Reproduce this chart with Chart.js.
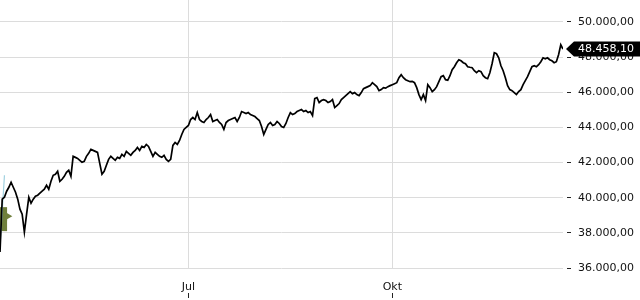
<!DOCTYPE html>
<html>
<head>
<meta charset="utf-8">
<script src="https://cdn.jsdelivr.net/npm/chart.js@4.4.1/dist/chart.umd.min.js"></script>
<style>
  html, body { margin: 0; padding: 0; background: #fff; }
  canvas { display: block; }
</style>
</head>
<body>
<canvas id="priceChart" width="640" height="300"></canvas>
<script>
// Index chart data (one value per day, day 0 = 7 Apr)
const monthTickDays = [85, 177];
const monthLabels = ['Jul', 'Okt'];
const priceTicks = [36000, 38000, 40000, 42000, 44000, 46000, 48000, 50000];
const lastPrice = 48458.10;

const closes = [
  36912, 39915, 40028, 40368, 40594, 40878, 40594, 40311, 39915, 39348,
  39065, 38045, 39065, 40028, 39688, 39915, 40084, 40141, 40254, 40368,
  40481, 40708, 40481, 40934, 41274, 41331, 41501, 40934, 41048, 41217,
  41444, 41557, 41217, 42351, 42294, 42237, 42124, 42011, 42067, 42351,
  42521, 42748, 42691, 42634, 42578, 41954, 41331, 41501, 41841, 42181,
  42351, 42237, 42124, 42294, 42237, 42464, 42351, 42634, 42521, 42408,
  42578, 42691, 42861, 42691, 42917, 42861, 43031, 42917, 42634, 42351,
  42578, 42464, 42351, 42294, 42408, 42181, 42067, 42181, 42974, 43144,
  43031, 43257, 43597, 43881, 43994, 44107, 44447, 44561, 44447, 44844,
  44447, 44334, 44277, 44447, 44561, 44731, 44334, 44391, 44447, 44277,
  44164, 43881, 44277, 44391, 44447, 44504, 44561, 44334, 44561, 44900,
  44844, 44787, 44844, 44731, 44674, 44617, 44504, 44391, 44051, 43597,
  43881, 44164, 44277, 44107, 44164, 44334, 44221, 44051, 43994, 44221,
  44561, 44844, 44731, 44787, 44900, 44957, 45014, 44900, 44957, 44844,
  44900, 44674, 45637, 45694, 45410, 45524, 45580, 45524, 45410, 45467,
  45580, 45127, 45240, 45354, 45580, 45694, 45807, 45920, 46034, 45920,
  45977, 45864, 45807, 45977, 46204, 46260, 46317, 46374, 46544, 46430,
  46317, 46090, 46147, 46260, 46230, 46317, 46374, 46430, 46487, 46544,
  46827, 46997, 46827, 46714, 46657, 46600, 46620, 46544, 46260, 45864,
  45580, 45864, 45524, 46430, 46260, 46034, 46147, 46317, 46600, 46884,
  46940, 46714, 46680, 46940, 47280, 47450, 47677, 47847, 47790, 47677,
  47620, 47450, 47420, 47394, 47224, 47110, 47224, 47167, 46940, 46827,
  46770, 47110, 47620, 48243, 48190, 47960, 47507, 47224, 46827, 46374,
  46147, 46090, 45977, 45864, 46034, 46147, 46430, 46657, 46884, 47167,
  47450, 47507, 47450, 47564, 47734, 47960, 47903, 47960, 47847, 47790,
  47677, 47734, 48130, 48697, lastPrice
];

// small overlays at the left edge
const compareDays = [0, 2];
const compareValues = [37200, 41280];
const markerDays = [0, 0];
const markerValues = [39060, 38500];
const arrowDay = [3.3];
const arrowValue = [38950];

function fmtDe(v) {
  const parts = v.toFixed(2).split('.');
  return parts[0].replace(/\B(?=(\d{3})+(?!\d))/g, '.') + ',' + parts[1];
}

const toPoints = (xs, ys) => xs.map((x, i) => ({ x: x, y: ys[i] }));

// black price tag on the right axis
const priceTag = {
  id: 'priceTag',
  afterDraw(chart) {
    const ctx = chart.ctx;
    const y = Math.round(chart.scales.y.getPixelForValue(lastPrice));
    const left = chart.chartArea.right + 3;
    const h = 7.5;
    ctx.save();
    ctx.fillStyle = '#000';
    ctx.beginPath();
    ctx.moveTo(left, y);
    ctx.lineTo(left + 8, y - h);
    ctx.lineTo(chart.width, y - h);
    ctx.lineTo(chart.width, y + h);
    ctx.lineTo(left + 8, y + h);
    ctx.closePath();
    ctx.fill();
    ctx.fillStyle = '#fff';
    ctx.font = '11px "DejaVu Sans"';
    ctx.textBaseline = 'middle';
    ctx.fillText(fmtDe(lastPrice), chart.chartArea.right + 15, y + 0.5);
    ctx.restore();
  }
};

new Chart(document.getElementById('priceChart'), {
  type: 'line',
  data: {
    datasets: [
      {
        data: toPoints(closes.map((_, i) => i), closes),
        borderColor: '#000',
        borderWidth: 1.7,
        pointRadius: 0,
        tension: 0,
        order: 1
      },
      {
        data: toPoints(compareDays, compareValues),
        borderColor: '#9fd0e0',
        borderWidth: 1.2,
        pointRadius: 0,
        order: 2
      },
      {
        type: 'scatter',
        data: toPoints(markerDays, markerValues),
        pointStyle: 'rect',
        pointRadius: 10,
        backgroundColor: '#6f7f3c',
        borderWidth: 0,
        order: 3
      },
      {
        type: 'scatter',
        data: toPoints(arrowDay, arrowValue),
        pointStyle: 'triangle',
        rotation: 90,
        pointRadius: 5,
        backgroundColor: '#6f7f3c',
        borderWidth: 0,
        order: 3
      }
    ]
  },
  options: {
    responsive: false,
    animation: false,
    layout: { padding: 0, autoPadding: false },
    plugins: {
      legend: { display: false },
      tooltip: { enabled: false }
    },
    scales: {
      x: {
        type: 'linear',
        min: 0,
        max: 254,
        afterBuildTicks: scale => {
          scale.ticks = monthTickDays.map(d => ({ value: d }));
        },
        afterFit: scale => {
          scale.height = 32;
          scale.paddingLeft = 0;
          scale.paddingRight = 0;
        },
        border: { display: false },
        grid: {
          color: '#dcdcdc',
          tickColor: '#222',
          tickLength: 30,
          tickBorderDash: [0, 25, 5, 100]
        },
        ticks: {
          padding: -17,
          color: '#111',
          font: { family: 'DejaVu Sans', size: 11 },
          maxRotation: 0,
          callback: value => monthLabels[monthTickDays.indexOf(value)] || ''
        }
      },
      y: {
        position: 'right',
        min: 36000,
        max: 51246,
        afterBuildTicks: scale => {
          scale.ticks = priceTicks.map(v => ({ value: v }));
        },
        afterFit: scale => {
          scale.width = 77;
          scale.paddingTop = 0;
          scale.paddingBottom = 0;
        },
        border: { display: false },
        grid: {
          color: '#dcdcdc',
          tickColor: '#222',
          tickLength: 8,
          tickBorderDash: [0, 4, 4, 100]
        },
        ticks: {
          padding: 7,
          color: '#111',
          font: { family: 'DejaVu Sans', size: 11 },
          callback: value => fmtDe(value)
        }
      }
    }
  },
  plugins: [priceTag]
});
</script>
</body>
</html>
